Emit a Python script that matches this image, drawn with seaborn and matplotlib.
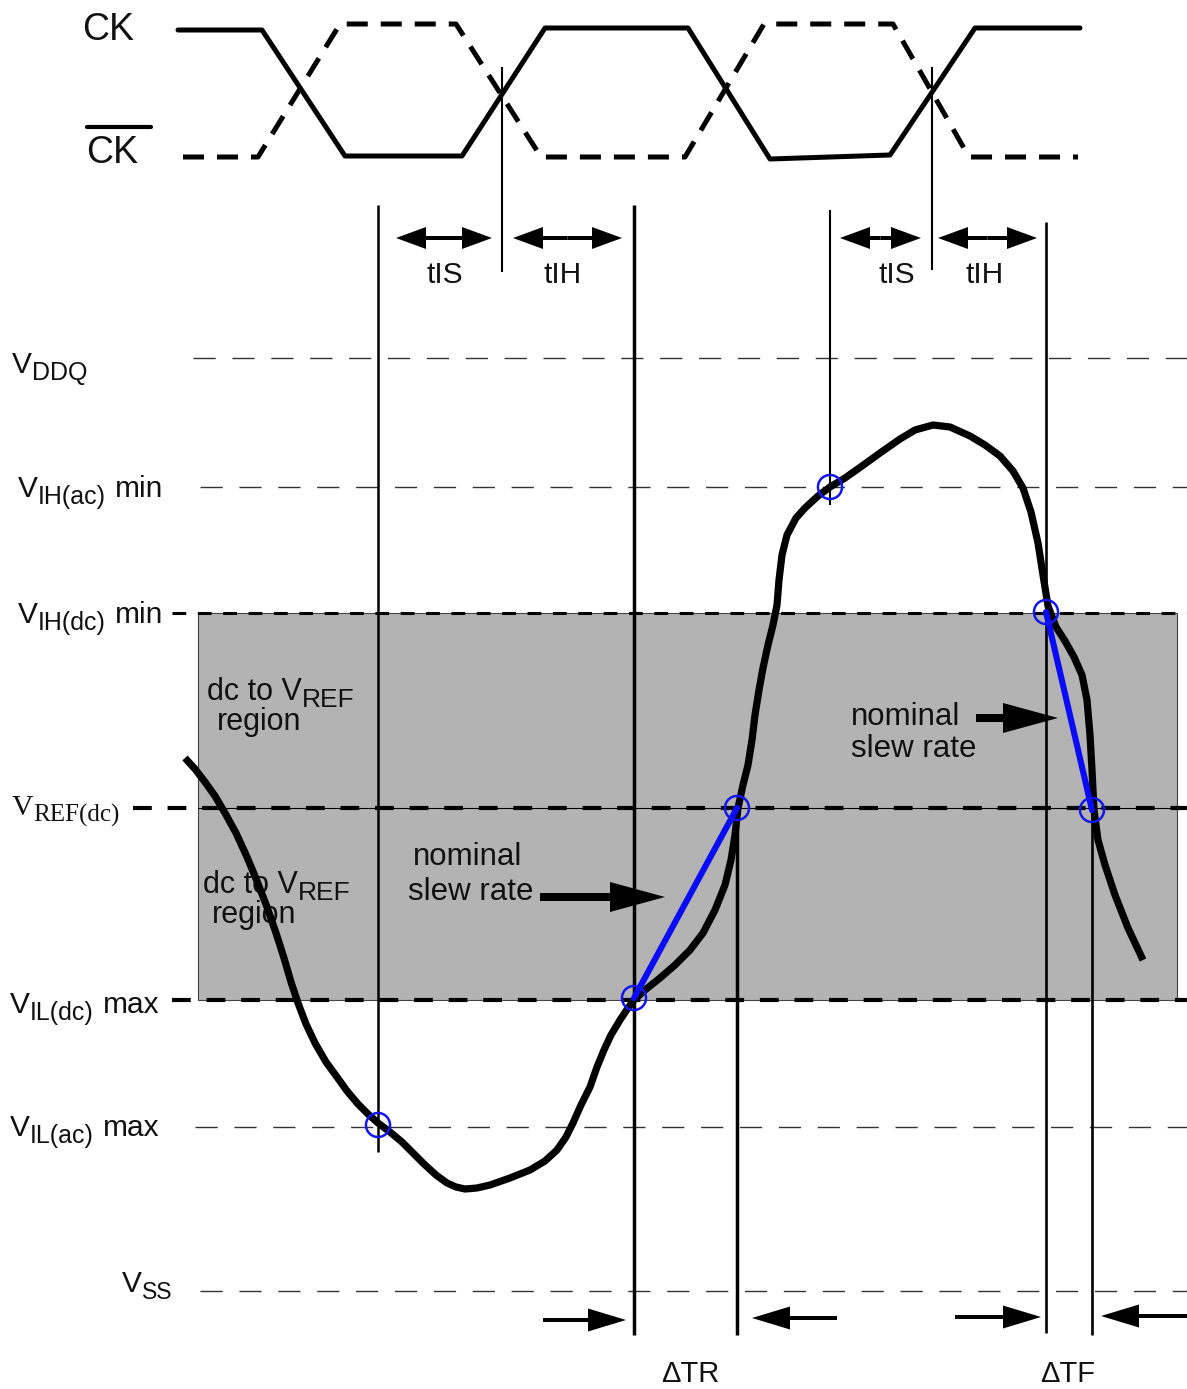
import numpy as np
import pandas as pd
import matplotlib
matplotlib.use("Agg")
import matplotlib.pyplot as plt
from matplotlib.patches import Rectangle
import seaborn as sns

# clock waveforms (pixel coordinates of the diagram, y grows downward)
ck_x = [178, 262, 345, 462, 545, 688, 770, 890, 975, 1080]
ck_y = [30, 30, 156, 156, 28, 28, 159, 155, 28, 28]
ckb_x = [183, 258, 340, 456, 541, 685, 764, 893, 969, 1078]
ckb_y = [157, 157, 24, 24, 157, 157, 24, 24, 157, 157]

# input signal
sig_x = [185, 195, 205, 215, 225, 236, 247, 257, 267, 276, 284, 291, 298, 306,
         315, 326, 337, 347, 358, 368, 378, 390, 402, 413, 424, 436, 447, 456,
         465, 477, 490, 510, 530, 545, 557, 566, 573, 581, 590, 597, 604, 611,
         620, 628, 634, 645, 660, 675, 690, 703, 715, 725, 731, 735, 738, 743,
         748, 752, 755, 759, 763, 768, 773, 777, 779, 782, 787, 796, 805, 818,
         830, 845, 862, 880, 900, 915, 933, 950, 970, 985, 1000, 1013, 1023,
         1031, 1038, 1043, 1048, 1056, 1065, 1074, 1082, 1087, 1090, 1092, 1094,
         1098, 1105, 1115, 1128, 1143]
sig_y = [758, 769, 782, 796, 813, 833, 857, 881, 907, 933, 958, 982, 1003, 1024,
         1043, 1062, 1077, 1091, 1104, 1114, 1123, 1132, 1142, 1153, 1164, 1175, 1183, 1187,
         1189, 1188, 1185, 1178, 1170, 1161, 1150, 1137, 1123, 1105, 1087, 1067, 1050, 1035,
         1020, 1008, 1000, 990, 978, 965, 950, 933, 910, 885, 860, 835, 808, 785,
         765, 740, 715, 690, 668, 645, 625, 605, 580, 555, 535, 518, 508, 496,
         487, 478, 466, 453, 439, 430, 425, 427, 436, 445, 456, 471, 488,
         512, 543, 575, 606, 627, 641, 657, 675, 700, 735, 770, 810,
         840, 865, 895, 928, 960]

# voltage levels: (main letter, subscript, suffix)
level_main = ['V', 'V', 'V', 'V', 'V', 'V', 'V']
level_sub = ['DDQ', 'IH(ac)', 'IH(dc)', 'REF(dc)', 'IL(dc)', 'IL(ac)', 'SS']
level_tail = ['', 'min', 'min', '', 'max', 'max', '']
level_y = [358, 487, 613, 808, 1000, 1127, 1291]
level_x0 = [193, 200, 172, 133, 172, 195, 200]
level_label_x = [12, 18, 18, 12, 10, 10, 122]
level_label_base = [373, 497, 623, 815, 1013, 1136, 1292]

# timing markers
vline_x = [378, 502, 634, 737, 830, 932, 1046, 1092]
vline_top = [205, 67, 205, 808, 210, 67, 222, 808]
vline_bot = [1152, 272, 1335, 1335, 505, 270, 1333, 1335]
vline_w = [1.8, 1.5, 2.5, 2.5, 1.5, 1.5, 1.9, 1.9]

# crossing points and nominal slew lines
circ_x = [378, 634, 737, 830, 1046, 1092]
circ_y = [1125, 998, 808, 487, 612, 810]
rise_x = [634, 737]
rise_y = [998, 808]
fall_x = [1046, 1092]
fall_y = [612, 810]

# setup / hold spans
t_labels = ['tIS', 'tIH', 'tIS', 'tIH']
t_left = [396, 513, 840, 938]
t_right = [492, 622, 921, 1037]
t_center = [445, 563, 897, 985]

sns.set_style("white")
plt.rcParams['font.family'] = ['Liberation Sans', 'DejaVu Sans']
plt.rcParams['text.color'] = '#111111'

fig = plt.figure(figsize=(11.87, 13.89), dpi=100)
ax = fig.add_axes([0, 0, 1, 1])
ax.set_xlim(0, 1187)
ax.set_ylim(1389, 0)
renderer = fig.canvas.get_renderer()


def sub_text(x, y, main, sub, tail='', size=21.5, sub_size=18, drop=7,
             family=None, zorder=8):
    fam = family or ['Liberation Sans', 'DejaVu Sans']
    t = ax.text(x, y, main, fontsize=size, family=fam, va='baseline', zorder=zorder)
    x1 = t.get_window_extent(renderer).x1
    s = ax.text(x1, y + drop, sub, fontsize=sub_size, family=fam, va='baseline',
                zorder=zorder)
    if tail:
        x2 = s.get_window_extent(renderer).x1
        ax.text(x2 + 9, y, tail, fontsize=size, family=fam, va='baseline', zorder=zorder)


# dc to Vref shaded region
ax.add_patch(Rectangle((198, 613), 979, 387, facecolor='#b3b3b3',
                       edgecolor='#444444', lw=0.8, zorder=0))
ax.plot([198, 1177], [808, 808], color='black', lw=0.8, zorder=1)

# level lines and labels
for i, yv in enumerate(level_y):
    if i in (2, 3, 4):
        lw = 2.2 if i == 2 else 3.0
        ax.plot([level_x0[i], 1187], [yv, yv], color='black', lw=lw,
                dashes=(4.5, 3.8), dash_capstyle='butt', zorder=2)
    else:
        ax.plot([level_x0[i], 1187], [yv, yv], color='#333333', lw=1.0,
                dashes=(16, 12), zorder=2)
    fam = ['Liberation Serif'] if i == 3 else None
    ssize = 16.5 if i == 6 else 18
    sub_text(level_label_x[i], level_label_base[i], level_main[i], level_sub[i],
             level_tail[i], sub_size=ssize, family=fam)

# clocks
sns.lineplot(x=ck_x, y=ck_y, sort=False, estimator=None, color='black', lw=3.6, ax=ax)
sns.lineplot(x=ckb_x, y=ckb_y, sort=False, estimator=None, color='black', lw=3.6, ax=ax,
             linestyle=(0, (4.2, 2.6)))
ax.text(82, 40, 'CK', fontsize=27, va='baseline', ha='left')
ax.text(86, 163, 'CK', fontsize=27, va='baseline', ha='left')
ax.plot([87, 151], [127, 127], color='black', lw=3)

# vertical markers
for x, t, b, w in zip(vline_x, vline_top, vline_bot, vline_w):
    ax.plot([x, x], [t, b], color='black', lw=w, solid_capstyle='butt', zorder=3)

# setup / hold arrows
for lab, l, r, c in zip(t_labels, t_left, t_right, t_center):
    m = (l + r) / 2
    for tip in (l, r):
        ax.arrow(m, 238, tip - m, 0, width=4, head_width=22, head_length=30,
                 length_includes_head=True, color='black', lw=0, zorder=4)
    ax.text(c, 283, lab, fontsize=21.5, ha='center', va='baseline')

# signal
sns.lineplot(x=sig_x, y=sig_y, sort=False, estimator=None, color='black', lw=5.2,
             ax=ax, zorder=5)
ax.lines[-1].set_solid_joinstyle('round')
ax.lines[-1].set_solid_capstyle('butt')
sns.lineplot(x=rise_x, y=rise_y, sort=False, estimator=None, color='#0a0aff', lw=4.4,
             ax=ax, zorder=6)
sns.lineplot(x=fall_x, y=fall_y, sort=False, estimator=None, color='#0a0aff', lw=4.4,
             ax=ax, zorder=6)
sns.scatterplot(x=circ_x, y=circ_y, s=300, marker='o', facecolor='none',
                edgecolor='#1515ee', linewidth=1.8, ax=ax, zorder=7)

# region labels
for x0, xr, yb in [(207, 217, 700), (203, 212, 893)]:
    t = ax.text(x0, yb, 'dc to V', fontsize=22, va='baseline', zorder=1)
    ax.text(t.get_window_extent(renderer).x1, yb + 7, 'REF', fontsize=19,
            va='baseline', zorder=1)
    ax.text(xr, yb + 30, 'region', fontsize=22, va='baseline', zorder=1)

# nominal slew rate notes
ax.text(413, 865, 'nominal', fontsize=22.5, va='baseline', zorder=1)
ax.text(408, 900, 'slew rate', fontsize=22.5, va='baseline', zorder=1)
ax.arrow(540, 897, 125, 0, width=8, head_width=30, head_length=55,
         length_includes_head=True, color='black', lw=0, zorder=4)
ax.text(851, 725, 'nominal', fontsize=22.5, va='baseline', zorder=1)
ax.text(851, 757, 'slew rate', fontsize=22.5, va='baseline', zorder=1)
ax.arrow(976, 718, 82, 0, width=8, head_width=30, head_length=55,
         length_includes_head=True, color='black', lw=0, zorder=4)

# delta T arrows
for tail, tip, yv in [(543, 626, 1320), (837, 752, 1318), (955, 1041, 1317), (1187, 1101, 1316)]:
    ax.arrow(tail, yv, tip - tail, 0, width=4, head_width=23, head_length=38,
             length_includes_head=True, color='black', lw=0, zorder=4)
ax.text(690, 1382, '\u0394TR', fontsize=21, ha='center', va='baseline')
ax.text(1068, 1382, '\u0394TF', fontsize=21, ha='center', va='baseline')

ax.axis('off')
fig.savefig('out.png', dpi=100)
